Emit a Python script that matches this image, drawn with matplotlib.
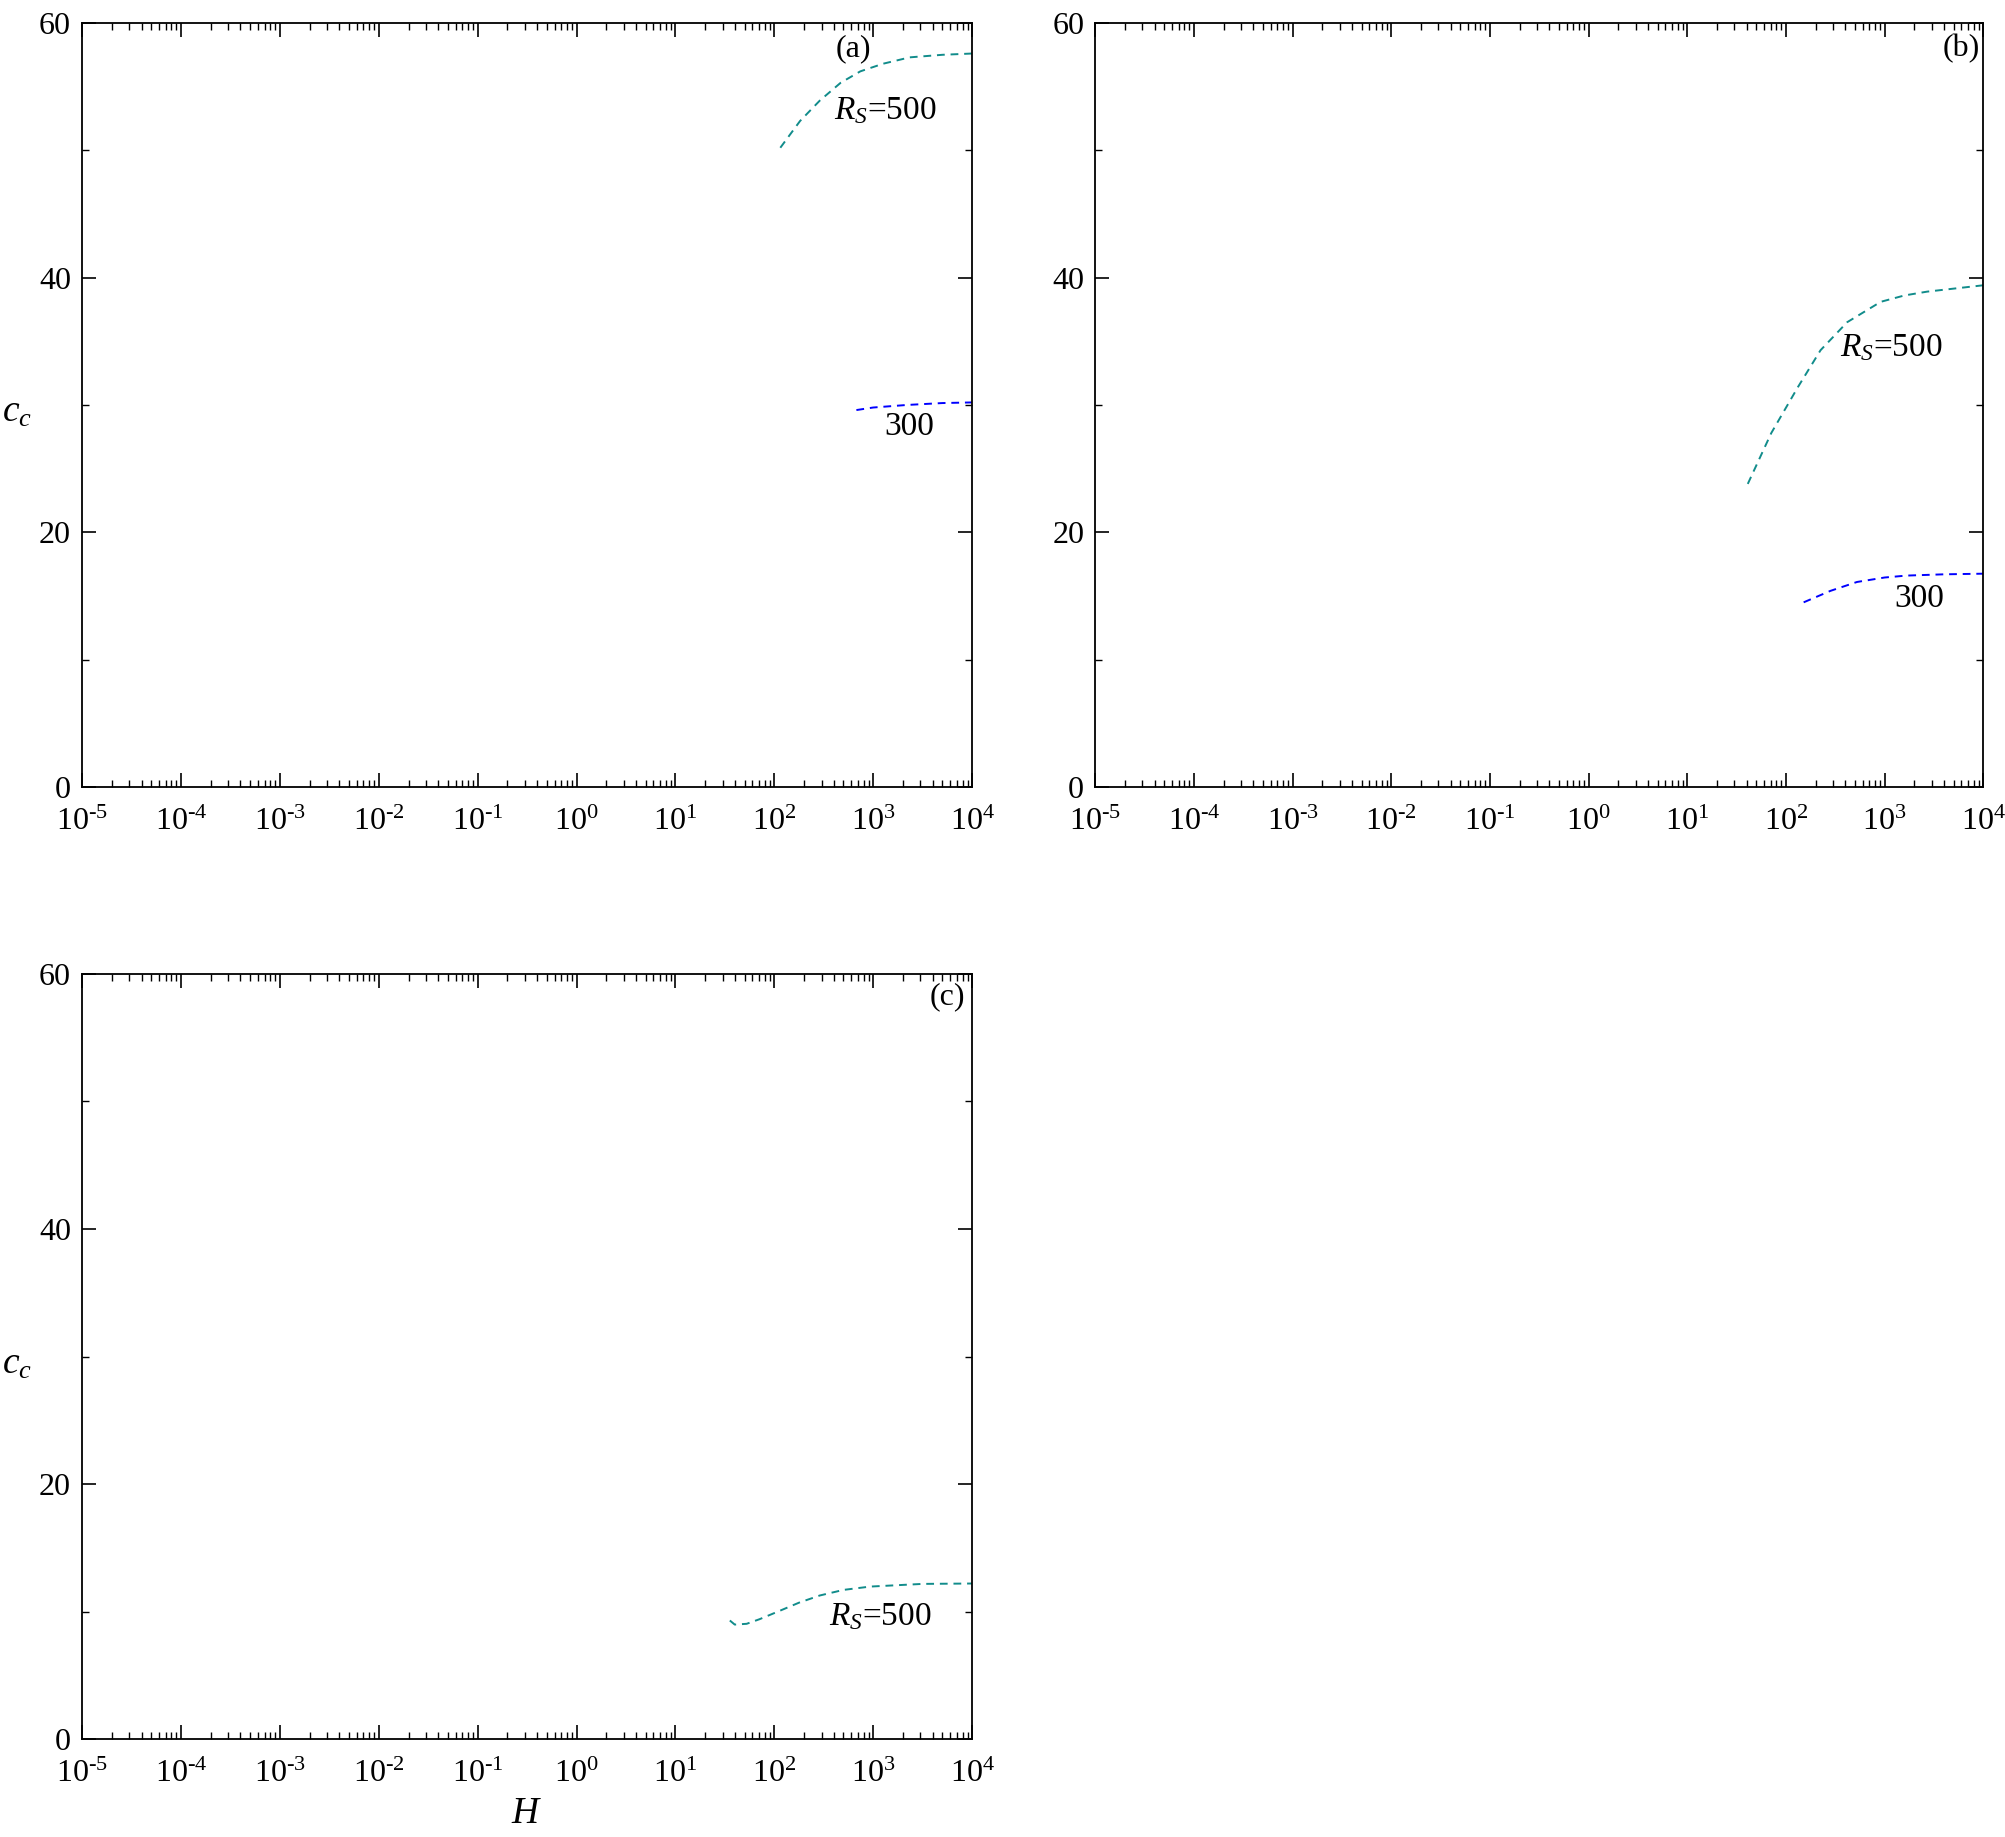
import numpy as np
import matplotlib
matplotlib.use("Agg")
import matplotlib.pyplot as plt
from matplotlib.ticker import LogLocator, MultipleLocator, NullFormatter, FuncFormatter

plt.rcParams['font.family'] = ['Liberation Serif', 'DejaVu Serif']
plt.rcParams['mathtext.fontset'] = 'custom'
plt.rcParams['mathtext.rm'] = 'Liberation Serif'
plt.rcParams['mathtext.it'] = 'Liberation Serif:italic'
plt.rcParams['axes.unicode_minus'] = False

# ---- dados ----
# (a)
a500_H = [115, 182, 288, 468, 741, 1259, 2344, 5012, 10000]
a500_c = [50.2, 52.3, 53.9, 55.3, 56.2, 56.8, 57.3, 57.5, 57.6]
a300_H = [676, 1000, 2190, 5000, 10000]
a300_c = [29.6, 29.8, 30.0, 30.15, 30.2]
# (b)
b500_H = [41, 71, 132, 224, 417, 912, 1585, 2692, 10000]
b500_c = [23.8, 27.8, 31.4, 34.3, 36.5, 38.1, 38.6, 38.9, 39.4]
b300_H = [151, 282, 525, 1000, 1660, 3981, 10000]
b300_c = [14.5, 15.4, 16.1, 16.45, 16.6, 16.7, 16.75]
# (c)
c500_H = [35.5, 39.8, 52.5, 70.8, 105, 178, 288, 501, 933, 3162, 10000]
c500_c = [9.3, 8.98, 9.04, 9.4, 9.95, 10.7, 11.26, 11.7, 11.96, 12.17, 12.2]

teal = '#118c8b'
azul = '#0000ff'
fs = 23


def fmt_pot(v, pos):
    e = int(round(np.log10(v)))
    return r'$10^{\text{%d}}$' % e


fig = plt.figure(figsize=(20.06, 18.37), dpi=100)
axa = fig.add_axes([0.0409, 0.5716, 0.4437, 0.4159])
axb = fig.add_axes([0.546, 0.5716, 0.4427, 0.4159])
axc = fig.add_axes([0.0409, 0.0533, 0.4437, 0.4165])


def estilo(ax):
    ax.set_xscale('log')
    ax.set_xlim(1e-5, 1e4)
    ax.set_ylim(0, 60)
    ax.xaxis.set_major_locator(LogLocator(base=10, numticks=20))
    ax.xaxis.set_major_formatter(FuncFormatter(fmt_pot))
    ax.xaxis.set_minor_locator(LogLocator(base=10, subs=np.arange(2, 10), numticks=20))
    ax.xaxis.set_minor_formatter(NullFormatter())
    ax.yaxis.set_major_locator(MultipleLocator(20))
    ax.yaxis.set_minor_locator(MultipleLocator(10))
    ax.tick_params(which='both', direction='in', top=True, right=True, labelsize=fs)
    ax.tick_params(axis='y', pad=8)
    ax.tick_params(axis='x', pad=15)
    ax.tick_params(which='major', length=10, width=1.2)
    ax.tick_params(which='minor', length=5, width=1.0)
    for s in ax.spines.values():
        s.set_linewidth(1.3)


for ax in (axa, axb, axc):
    estilo(ax)

kw = dict(lw=1.4, dashes=(4, 3))
axa.plot(a500_H, a500_c, color=teal, **kw)
axa.plot(a300_H, a300_c, color=azul, **kw)
axb.plot(b500_H, b500_c, color=teal, **kw)
axb.plot(b300_H, b300_c, color=azul, **kw)
axc.plot(c500_H, c500_c, color=teal, **kw)

axa.text(10**2.80, 58.0, '(a)', fontsize=fs, ha='center', va='center')
axa.text(10**3.12, 53.1, '$R_S$=500', fontsize=fs + 1, ha='center', va='center')
axa.text(10**3.36, 28.3, '300', fontsize=fs + 1, ha='center', va='center')

axb.text(10**3.78, 58.0, '(b)', fontsize=fs, ha='center', va='center')
axb.text(10**3.07, 34.5, '$R_S$=500', fontsize=fs + 1, ha='center', va='center')
axb.text(10**3.35, 14.8, '300', fontsize=fs + 1, ha='center', va='center')

axc.text(10**3.745, 58.2, '(c)', fontsize=fs, ha='center', va='center')
axc.text(10**3.07, 9.6, '$R_S$=500', fontsize=fs + 1, ha='center', va='center')

for ax in (axa, axc):
    ax.set_ylabel('$c_c$', fontsize=fs + 4, rotation=0, ha='center', va='center')
    ax.yaxis.set_label_coords(-0.073, 0.49)

axc.set_xlabel('$H$', fontsize=fs + 4, va='center')
axc.xaxis.set_label_coords(0.5, -0.098)

fig.savefig('out.png', dpi=100)
